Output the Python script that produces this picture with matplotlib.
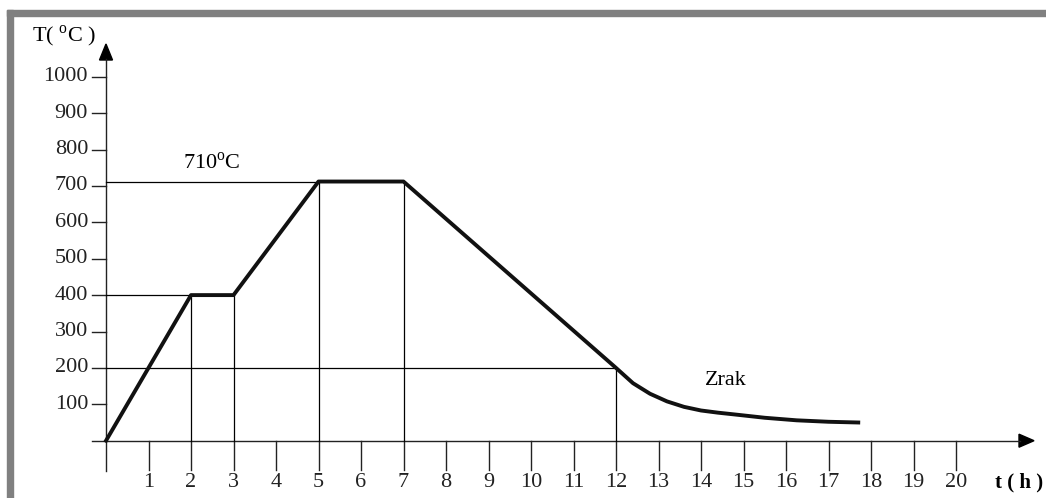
import matplotlib.pyplot as plt
from matplotlib.patches import Rectangle, Polygon

# podaci
t_pts = [0, 2, 3, 5, 7, 12, 12.4, 12.8, 13.2, 13.6, 14.0, 14.4, 14.8, 15.5, 16.25, 17.0, 17.7]
T_pts = [0, 400, 400, 712, 712, 200, 158, 129, 108, 93, 83, 77, 72, 63, 56, 52, 50]
x_ticks = list(range(1, 21))
y_ticks = list(range(100, 1001, 100))
v_lines = [2, 3, 5, 7, 12]
h_lines = [(400, 2), (712, 5), (200, 12)]

W, H = 1046, 498
X0, Y0 = 106, 440.7      # ishodiste u pikselima
SX, SY = 42.5, 0.364     # px po satu, px po stupnju

plt.rcParams['font.family'] = ['Liberation Serif', 'DejaVu Serif']
plt.rcParams['mathtext.fontset'] = 'custom'
plt.rcParams['mathtext.rm'] = 'Liberation Serif'
fig = plt.figure(figsize=(W / 100, H / 100), dpi=100)
ax = fig.add_axes([0, 0, 1, 1])
ax.set_xlim(-X0 / SX, (W - X0) / SX)
ax.set_ylim((Y0 - H) / SY, Y0 / SY)
ax.axis('off')

# okvir
fig.patches.append(Rectangle((7 / W, 0), 6 / W, 1 - 10 / H, transform=fig.transFigure,
                             color='#808080', zorder=0))
fig.patches.append(Rectangle((7 / W, 1 - 16 / H), 1, 6 / H, transform=fig.transFigure,
                             color='#808080', zorder=0))

k = dict(color='#222222', lw=1.0)
px = 1 / SX
py = 1 / SY
fs = 16

# osi
ax.plot([-14 * px, (1020 - X0) * px], [0, 0], **k)
ax.plot([0, 0], [-30 * py, (Y0 - 59) * py], **k)
ax.add_patch(Polygon([[(1019 - X0) * px, 6.5 * py], [(1019 - X0) * px, -6.5 * py],
                      [(1034 - X0) * px, 0]], color='black'))
ax.add_patch(Polygon([[-6.5 * px, (Y0 - 60) * py], [6.5 * px, (Y0 - 60) * py],
                      [0, (Y0 - 44) * py]], color='black'))

# crtice
for x in x_ticks:
    ax.plot([x, x], [0, -29 * py], **k)
    ax.text(x, -42 * py, str(x), ha='center', va='center', fontsize=fs, color='#222222')
for y in y_ticks:
    ax.plot([-14 * px, 0], [y, y], **k)
    ax.text(-18 * px, y, str(y), ha='right', va='center', fontsize=fs, color='#222222')

# pomocne linije
for x in v_lines:
    T = T_pts[t_pts.index(x)]
    ax.plot([x, x], [0, T], color='black', lw=0.9)
for y, x in h_lines:
    ax.plot([0, x], [y, y], color='black', lw=0.9)

# krivulja
ax.plot(t_pts, T_pts, color='#111111', lw=2.8, solid_joinstyle='round')

ax.text(-74 * px, (Y0 - 36) * py, 'T( $^{\\mathrm{o}}$C )', ha='left', va='center', fontsize=fs)
ax.text((183 - X0) * px, (Y0 - 163) * py, '710$^{\\mathrm{o}}$C', ha='left', va='center', fontsize=fs)
ax.text((705 - X0) * px, (Y0 - 380) * py, 'Zrak', ha='left', va='center', fontsize=fs)
ax.text((1043 - X0) * px, -42 * py, 't ( h )', ha='right', va='center', fontsize=15,
        fontweight='bold')

fig.savefig('out.png', dpi=100)
